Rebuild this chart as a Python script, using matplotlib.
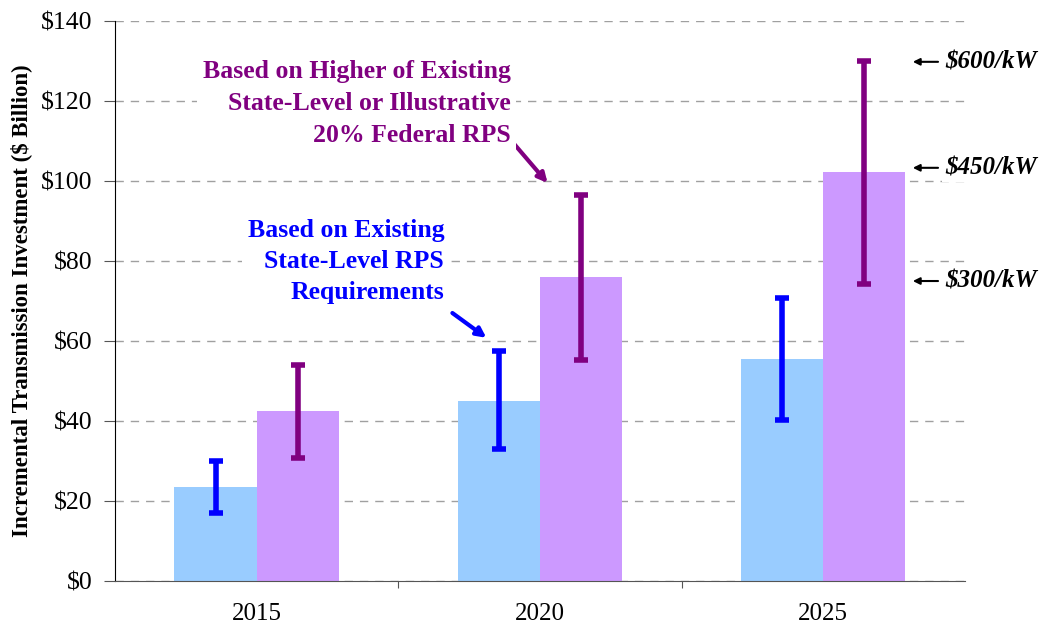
import matplotlib.pyplot as plt
import numpy as np

years = ['2015', '2020', '2025']
existing = [23.5, 45.0, 55.5]
existing_lo = [17.0, 33.0, 40.3]
existing_hi = [30.0, 57.5, 70.8]
higher = [42.5, 76.0, 102.2]
higher_lo = [30.8, 55.3, 74.3]
higher_hi = [54.0, 96.5, 130.0]
cost_labels = ['$600/kW', '$450/kW', '$300/kW']
cost_values = [129.8, 103.3, 75.0]

plt.rcParams['font.family'] = ['Liberation Serif', 'DejaVu Serif']

fig = plt.figure(figsize=(10.45, 6.31), dpi=100)
ax = fig.add_axes([0.110, 0.0792, 0.8134, 0.8875])

x = np.arange(len(years))
w = 0.29
ax.bar(x - w / 2, existing, w, color='#99CCFF', zorder=2)
ax.bar(x + w / 2, higher, w, color='#CC99FF', zorder=2)

e1 = [np.array(existing) - np.array(existing_lo), np.array(existing_hi) - np.array(existing)]
e2 = [np.array(higher) - np.array(higher_lo), np.array(higher_hi) - np.array(higher)]
ax.errorbar(x - w / 2, existing, yerr=e1, fmt='none', ecolor='#0000FF',
            elinewidth=4, capsize=5, capthick=4, zorder=3)
ax.errorbar(x + w / 2, higher, yerr=e2, fmt='none', ecolor='#800080',
            elinewidth=4, capsize=5, capthick=4, zorder=3)

ax.set_xlim(-0.5, 2.5)
ax.set_ylim(0, 140)
ax.set_yticks(range(0, 141, 20))
ax.set_yticklabels(['$%d' % v for v in range(0, 141, 20)], fontsize=18.5)
ax.set_xticks([0.5, 1.5])
ax.set_xticklabels([])
ax.set_xticks(x, minor=True)
ax.set_xticklabels(years, minor=True, fontsize=18)
ax.tick_params(axis='x', which='minor', length=0, pad=16)
ax.tick_params(axis='x', which='major', length=5, color='#555555')
ax.tick_params(axis='y', length=8, direction='out', pad=8, color='#555555')

ax.yaxis.grid(True, linestyle=(0, (6, 5)), color='#A0A0A0', linewidth=1, zorder=0)
ax.set_axisbelow(True)
ax.spines['top'].set_visible(False)
ax.spines['right'].set_visible(False)
ax.spines['bottom'].set_color('#555555')
ax.spines['left'].set_color('black')

ax.set_ylabel('Incremental Transmission Investment ($ Billion)', fontsize=16.5,
              fontweight='bold')
ax.yaxis.set_label_coords(-0.097, 0.5)

box = dict(facecolor='white', edgecolor='none', pad=4)
ax.text(0.662, 79.8, 'Based on Existing\nState-Level RPS\nRequirements',
        ha='right', va='center', fontsize=18.5, fontweight='bold',
        color='#0000FF', linespacing=1.45, bbox=box, zorder=4)
ax.annotate('', xy=(0.811, 60.8), xytext=(0.691, 67.0),
            arrowprops=dict(arrowstyle='-|>', color='#0000FF', lw=3,
                            mutation_scale=14, shrinkA=0, shrinkB=0))
ax.text(0.896, 119.5, 'Based on Higher of Existing\nState-Level or Illustrative\n20% Federal RPS',
        ha='right', va='center', fontsize=18.5, fontweight='bold',
        color='#800080', linespacing=1.5, bbox=box, zorder=4)
ax.annotate('', xy=(1.027, 99.5), xytext=(0.906, 109.5),
            arrowprops=dict(arrowstyle='-|>', color='#800080', lw=3,
                            mutation_scale=14, shrinkA=0, shrinkB=0))

for lab, v in zip(cost_labels, cost_values):
    ax.annotate('', xy=(2.316, v), xytext=(2.405, v),
                arrowprops=dict(arrowstyle='-|>', color='black', lw=1.5,
                                mutation_scale=10, shrinkA=0, shrinkB=0))
    ax.text(2.43, v, lab, ha='left', va='center', fontsize=18,
            fontweight='bold', fontstyle='italic', color='black',
            bbox=dict(facecolor='white', edgecolor='none', pad=2), zorder=4)

fig.savefig('out.png', dpi=100)
